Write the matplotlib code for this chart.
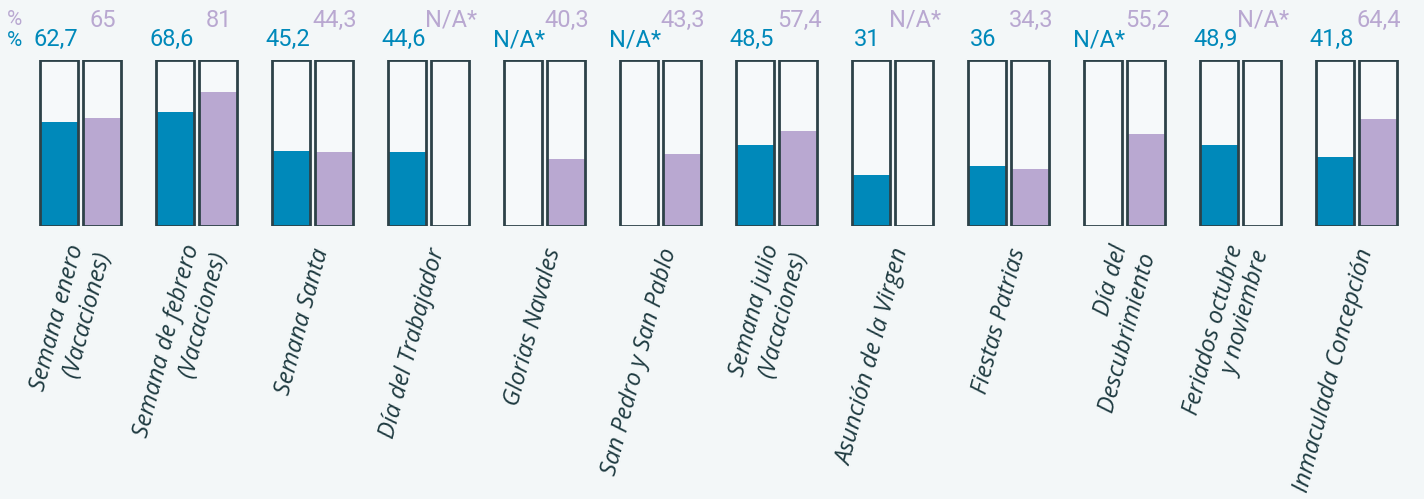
import numpy as np
import matplotlib
matplotlib.use("Agg")
import matplotlib.pyplot as plt
import matplotlib.transforms as mtransforms

# datos
CATEGORIAS = [
    "Semana enero\n(Vacaciones)",
    "Semana de febrero\n(Vacaciones)",
    "Semana Santa",
    "Día del Trabajador",
    "Glorias Navales",
    "San Pedro y San Pablo",
    "Semana julio\n(Vacaciones)",
    "Asunción de la Virgen",
    "Fiestas Patrias",
    "Día del\nDescubrimiento",
    "Feriados octubre\ny noviembre",
    "Inmaculada Concepción",
]
SERIE_AZUL = [62.7, 68.6, 45.2, 44.6, np.nan, np.nan, 48.5, 31, 36, np.nan, 48.9, 41.8]
SERIE_LILA = [65, 81, 44.3, np.nan, 40.3, 43.3, 57.4, np.nan, 34.3, 55.2, np.nan, 64.4]

# estilo
AZUL = "#0089BA"
LILA = "#B9A8D1"
BORDE = "#2D4248"
FONDO = "#F3F7F8"
CAJA = "#F6F9FA"
TEXTO = "#1E3A40"

W, H = 1424, 499
PASO = 116.0          # px entre grupos
CENTRO0 = 80.5        # px centro del primer grupo
ANCHO = 38 / PASO
OFF = 21.5 / PASO
TOP_PX, BOT_PX = 60, 226


def fmt(v):
    if np.isnan(v):
        return "N/A*"
    s = f"{v:.1f}".replace(".", ",")
    return s[:-2] if s.endswith(",0") else s


def py(px):
    # pixel vertical -> coordenada de ejes
    return (BOT_PX - px) / (BOT_PX - TOP_PX)


fig = plt.figure(figsize=(W / 100, H / 100), dpi=100, facecolor=FONDO)
ax = fig.add_axes([0, (H - BOT_PX) / H, 1, (BOT_PX - TOP_PX) / H])
ax.set_facecolor("none")
ax.set_xlim(-CENTRO0 / PASO, (W - CENTRO0) / PASO)
ax.set_ylim(0, 100)
ax.axis("off")

x = np.arange(len(CATEGORIAS))
azul = np.nan_to_num(np.array(SERIE_AZUL, dtype=float))
lila = np.nan_to_num(np.array(SERIE_LILA, dtype=float))

# cajas de fondo
ax.bar(x - OFF, 100, width=ANCHO, color=CAJA, edgecolor="none", zorder=1)
ax.bar(x + OFF, 100, width=ANCHO, color=CAJA, edgecolor="none", zorder=1)
# valores
ax.bar(x - OFF, azul, width=ANCHO, color=AZUL, edgecolor="none", zorder=2)
ax.bar(x + OFF, lila, width=ANCHO, color=LILA, edgecolor="none", zorder=2)
# bordes
ax.bar(x - OFF, 100, width=ANCHO, fill=False, edgecolor=BORDE, linewidth=2.0, zorder=3)
ax.bar(x + OFF, 100, width=ANCHO, fill=False, edgecolor=BORDE, linewidth=2.0, zorder=3)

trans = mtransforms.blended_transform_factory(ax.transData, ax.transAxes)
fnum = dict(family=["Roboto", "DejaVu Sans"], fontsize=17, clip_on=False, transform=trans)

for i in x:
    ax.text(i - OFF - 0.03, py(46), fmt(SERIE_AZUL[i]), color=AZUL,
            ha="center", va="baseline", **fnum)
    ax.text(i + OFF + 0.01, py(27), fmt(SERIE_LILA[i]), color=LILA,
            ha="center", va="baseline", **fnum)
    ax.text(i + 10 / PASO, py(249), CATEGORIAS[i], color=TEXTO,
            family=["Open Sans", "DejaVu Sans"], style="italic", fontsize=17,
            rotation=75, rotation_mode="anchor", ha="right", va="center",
            linespacing=1.25, transform=trans, clip_on=False)

fig.text(7 / W, 1 - 25 / H, "%", color=LILA, fontsize=15,
         family=["Roboto", "DejaVu Sans"], ha="left", va="baseline")
fig.text(7 / W, 1 - 46 / H, "%", color=AZUL, fontsize=15,
         family=["Roboto", "DejaVu Sans"], ha="left", va="baseline")

fig.savefig("out.png", dpi=100, facecolor=FONDO)
